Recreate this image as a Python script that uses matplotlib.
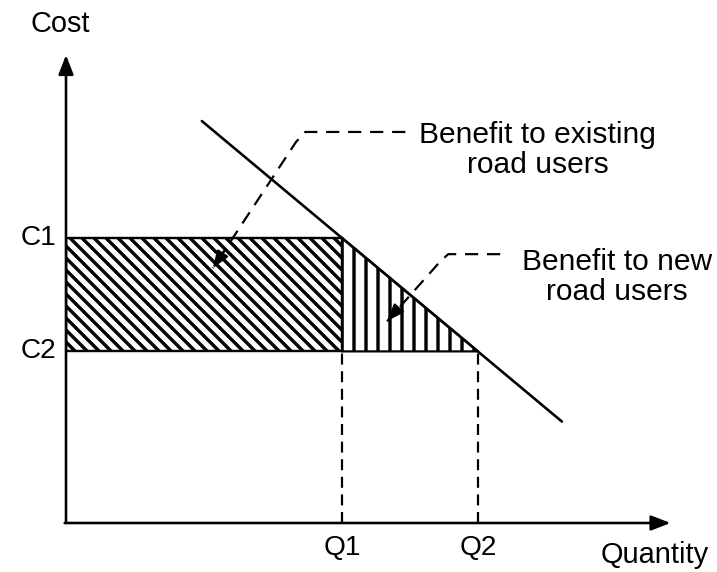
import matplotlib

matplotlib.use("Agg")
import matplotlib.pyplot as plt
from matplotlib.patches import Polygon

# Cost / quantity levels before and after the road improvement
COST_LEVELS = [54.8, 33.0]
COST_LABELS = ["C1", "C2"]
QUANTITY_LEVELS = [42.5, 63.4]
QUANTITY_LABELS = ["Q1", "Q2"]

# Demand curve end points (quantity, cost)
DEMAND_Q = [20.9, 76.3]
DEMAND_C = [77.3, 19.5]

# Axis arrow tips
X_AXIS_END = 93
Y_AXIS_END = 90

# Leader lines from the annotations to the shaded areas
LEADER_EXISTING = [(52.2, 75.2), (36.8, 75.2), (35.4, 73.3), (22.6, 49.0)]
LEADER_NEW = [(66.8, 51.7), (58.8, 51.7), (57.5, 50.2), (49.4, 38.8)]

DPI = 72
plt.rcParams["font.family"] = ["Liberation Sans", "DejaVu Sans"]
plt.rcParams["hatch.linewidth"] = 3.4

fig = plt.figure(figsize=(717 / DPI, 572 / DPI), dpi=DPI)
fig.patch.set_facecolor("white")
ax = fig.add_axes([66 / 717, 49 / 572, 650 / 717, 520 / 572])
ax.set_xlim(0, 100)
ax.set_ylim(0, 100)
ax.axis("off")

c1, c2 = COST_LEVELS
q1, q2 = QUANTITY_LEVELS

# existing users: rectangle between C1 and C2 up to Q1
ax.add_patch(Polygon([(0, c2), (0, c1), (q1, c1), (q1, c2)], closed=True,
                     facecolor="white", edgecolor="black", lw=2.4, hatch="\\\\"))
# new users: triangle under the demand curve between Q1 and Q2
ax.add_patch(Polygon([(q1, c1), (q2, c2), (q1, c2)], closed=True,
                     facecolor="white", edgecolor="black", lw=2.2, hatch="|"))

# demand curve
ax.plot(DEMAND_Q, DEMAND_C, color="black", lw=2.6, solid_capstyle="round")

# drop lines to the quantity axis
for q in QUANTITY_LEVELS:
    ax.plot([q, q], [0, c2], color="black", lw=2.2, linestyle=(0, (5, 3)))

# axes with arrow heads
arrow = dict(arrowstyle="-|>,head_length=0.9,head_width=0.35", color="black",
             lw=2.6, shrinkA=0, shrinkB=0, mutation_scale=18)
ax.annotate("", xy=(0, Y_AXIS_END), xytext=(0, 0), arrowprops=arrow,
            annotation_clip=False)
ax.annotate("", xy=(X_AXIS_END, 0), xytext=(-0.2, 0), arrowprops=arrow,
            annotation_clip=False)


def leader(points):
    xs = [p[0] for p in points]
    ys = [p[1] for p in points]
    ax.plot(xs, ys, color="black", lw=2.2, linestyle=(0, (6, 4)))
    (x0, y0), (x1, y1) = points[-2], points[-1]
    back = (x1 + 0.15 * (x0 - x1), y1 + 0.15 * (y0 - y1))
    ax.annotate("", xy=(x1, y1), xytext=back,
                arrowprops=dict(arrowstyle="-|>,head_length=0.8,head_width=0.3",
                                color="black", lw=2.2, shrinkA=0, shrinkB=0,
                                mutation_scale=18))


leader(LEADER_EXISTING)
leader(LEADER_NEW)

# labels
ax.text(-0.9, 96, "Cost", ha="center", va="center", fontsize=29)
ax.text(90.6, -6.2, "Quantity", ha="center", va="center", fontsize=29)
for c, lab in zip(COST_LEVELS, COST_LABELS):
    ax.text(-1.5, c, lab, ha="right", va="center", fontsize=28)
for q, lab in zip(QUANTITY_LEVELS, QUANTITY_LABELS):
    ax.text(q, -4.8, lab, ha="center", va="center", fontsize=28)

ax.text(72.6, 71.7, "Benefit to existing\nroad users", ha="center", va="center",
        fontsize=30, linespacing=1.1)
ax.text(84.8, 47.3, "Benefit to new\nroad users", ha="center", va="center",
        fontsize=30, linespacing=1.1)

fig.savefig("out.png", dpi=DPI)
